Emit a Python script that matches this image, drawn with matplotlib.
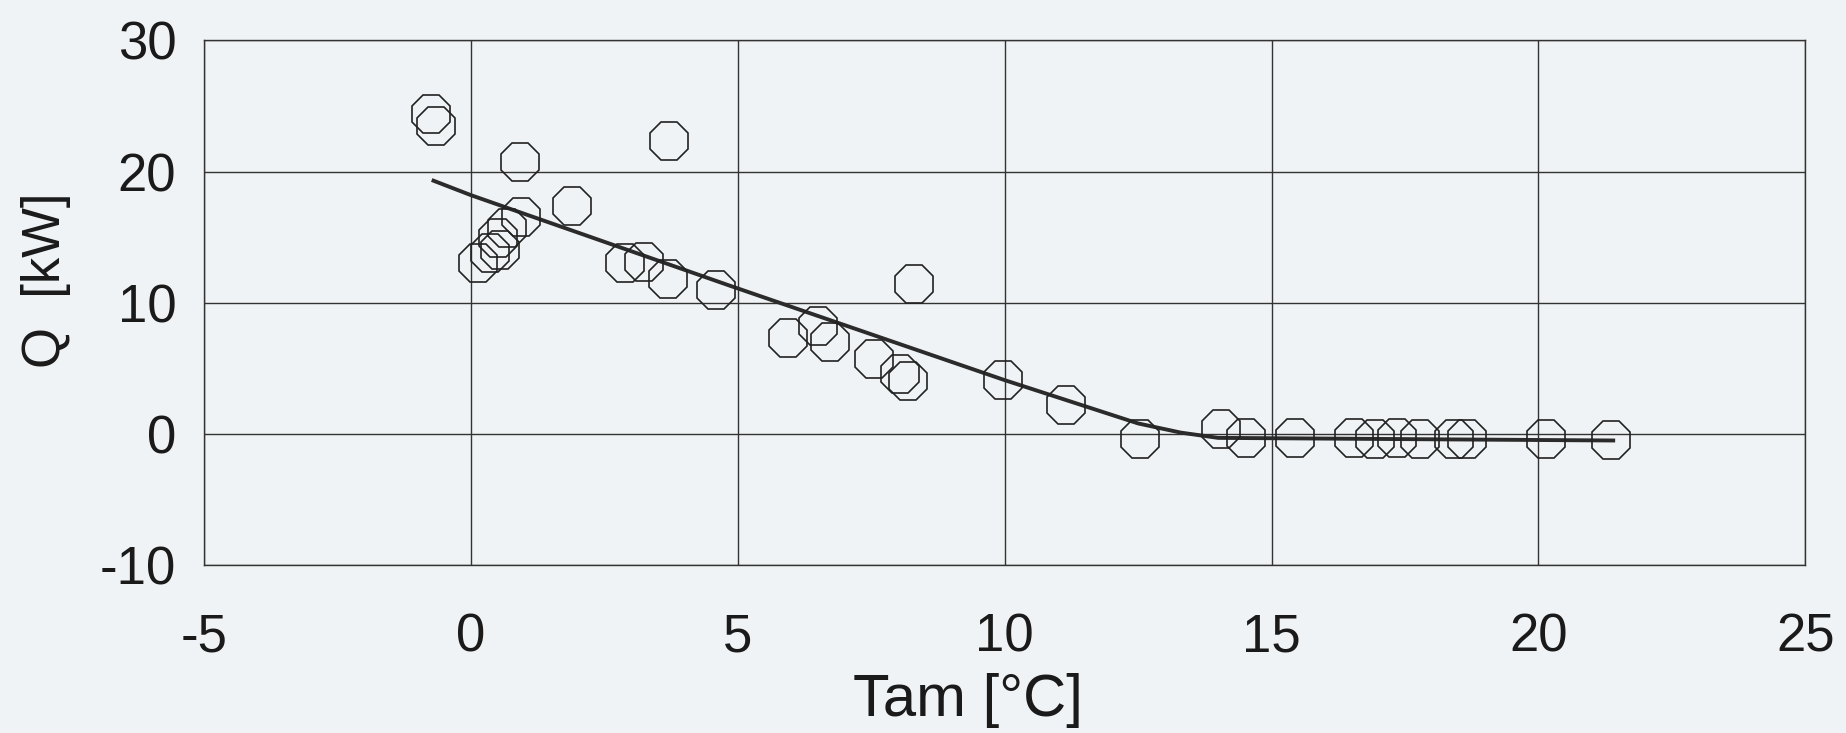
import numpy as np
import matplotlib
matplotlib.use('Agg')
import matplotlib.pyplot as plt

# Messpunkte
tam = [-0.75, -0.65, 0.92, 3.72, 1.89, 0.93, 0.67, 0.50, 0.54, 0.36, 0.13,
       2.89, 3.25, 3.70, 4.60, 5.95, 6.50, 6.72, 7.56, 8.04, 8.19, 8.31,
       9.97, 11.15, 12.54, 14.06, 14.53, 15.44, 16.54, 16.94, 17.35, 17.78,
       18.41, 18.66, 20.14, 21.35]
q = [24.4, 23.5, 20.7, 22.3, 17.4, 16.5, 15.7, 14.9, 14.0, 13.8, 13.0,
     13.0, 13.1, 11.8, 10.95, 7.3, 8.2, 7.0, 5.7, 4.6, 4.0, 11.4,
     4.1, 2.2, -0.4, 0.4, -0.3, -0.3, -0.3, -0.4, -0.3, -0.4,
     -0.4, -0.4, -0.4, -0.5]

# Ausgleichskurve
fit_x = [-0.7, 0.0, 4.85, 10.0, 12.5, 13.3, 14.0, 21.4]
fit_y = [19.3, 18.2, 11.3, 4.1, 0.8, 0.1, -0.3, -0.5]

x_ticks = [-5, 0, 5, 10, 15, 20, 25]
y_ticks = [-10, 0, 10, 20, 30]

bg = '#eff3f5'
plt.rcParams['font.family'] = ['Liberation Sans', 'DejaVu Sans']
plt.rcParams['axes.unicode_minus'] = False

fig = plt.figure(figsize=(18.46, 7.33), dpi=100, facecolor=bg)
ax = fig.add_axes([0.1105, 0.229, 0.8675, 0.716], facecolor=bg)

ax.plot(fit_x, fit_y, color='#2b2b2b', lw=2.8, zorder=3)
ax.plot(tam, q, linestyle='none', marker='8', markersize=29,
        markerfacecolor='none', markeredgecolor='#222222', markeredgewidth=1.2,
        zorder=4)

ax.set_xlim(-5, 25)
ax.set_ylim(-10, 30)
ax.set_xticks(x_ticks)
ax.set_yticks(y_ticks)
ax.grid(True, color='#333333', lw=1.0)
ax.set_axisbelow(True)
for s in ax.spines.values():
    s.set_color('#333333')
    s.set_linewidth(1.0)

ax.tick_params(length=0, labelsize=38, colors='#1a1a1a')
ax.tick_params(axis='x', pad=34)
ax.tick_params(axis='y', pad=20)

ax.set_xlabel('Tam [°C]', fontsize=43, color='#1a1a1a')
ax.set_ylabel('Q  [kW]', fontsize=38, color='#1a1a1a')
ax.xaxis.set_label_coords(0.477, -0.205)
ax.yaxis.set_label_coords(-0.083, 0.543)

fig.savefig('out.png', dpi=100, facecolor=bg)
